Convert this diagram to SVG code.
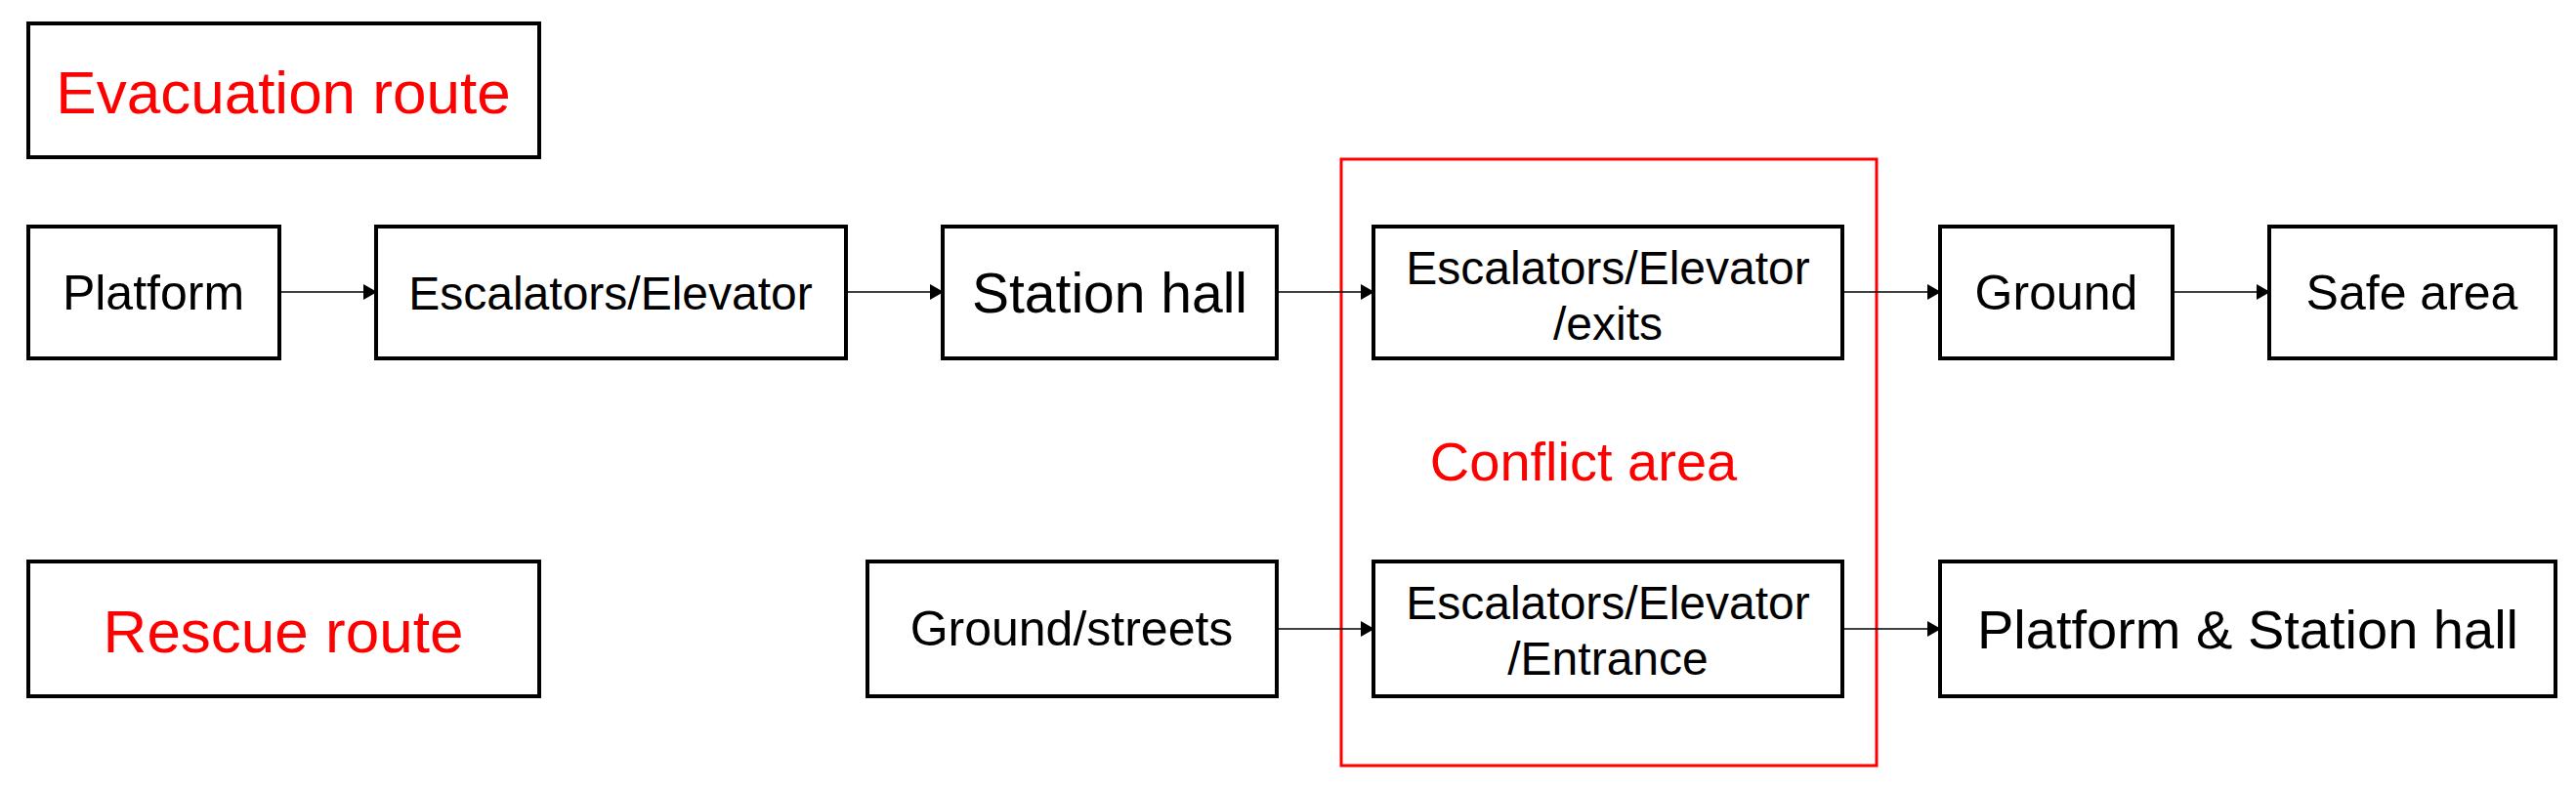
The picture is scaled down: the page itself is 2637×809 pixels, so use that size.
<svg xmlns="http://www.w3.org/2000/svg" width="2637" height="809" viewBox="0 0 2637 809">
<defs>
<marker id="ah" markerWidth="14" markerHeight="16" refX="13" refY="8" orient="auto" markerUnits="userSpaceOnUse" viewBox="0 0 14 16"><path d="M0,0 L14,8 L0,16 z" fill="#000"/></marker>
<style>
.n{fill:#fff;stroke:#000;stroke-width:4}
.t{font-family:"Liberation Sans",Arial,sans-serif;font-size:50px;fill:#000;text-anchor:middle;dominant-baseline:central}
.r{fill:#f00}
.c{stroke:#000;stroke-width:1.5;fill:none;marker-end:url(#ah)}
</style>
</defs>
<rect width="2637" height="809" fill="#fff"/>
<g id="conflict"><rect x="1373" y="163" width="548" height="621" fill="none" stroke="#f00" stroke-width="3"/><text class="t r" x="1621" y="472" style="font-size:56px">Conflict area</text></g>
<g id="evac"><rect class="n" x="29" y="24" width="523" height="137"/><text class="t r" x="290" y="94" style="font-size:62px">Evacuation route</text></g>
<g id="rescue"><rect class="n" x="29" y="575" width="523" height="138"/><text class="t r" x="290" y="646" style="font-size:62px">Rescue route</text></g>
<g id="platform"><rect class="n" x="29" y="232" width="257" height="135"/><text class="t" x="157" y="300">Platform</text></g>
<g id="esc1"><rect class="n" x="385" y="232" width="481" height="135"/><text class="t" x="625" y="300" style="font-size:48px">Escalators/Elevator</text></g>
<g id="hall"><rect class="n" x="965" y="232" width="342" height="135"/><text class="t" x="1136" y="300" style="font-size:57px">Station hall</text></g>
<g id="exits"><rect class="n" x="1406" y="232" width="480" height="135"/><text class="t" x="1646" y="274" style="font-size:48px">Escalators/Elevator</text><text class="t" x="1646" y="331" style="font-size:48px">/exits</text></g>
<g id="ground"><rect class="n" x="1986" y="232" width="238" height="135"/><text class="t" x="2105" y="300">Ground</text></g>
<g id="safe"><rect class="n" x="2323" y="232" width="293" height="135"/><text class="t" x="2469" y="300">Safe area</text></g>
<g id="streets"><rect class="n" x="888" y="575" width="419" height="138"/><text class="t" x="1097" y="644">Ground/streets</text></g>
<g id="entrance"><rect class="n" x="1406" y="575" width="480" height="138"/><text class="t" x="1646" y="617" style="font-size:48px">Escalators/Elevator</text><text class="t" x="1646" y="674" style="font-size:48px">/Entrance</text></g>
<g id="plathall"><rect class="n" x="1986" y="575" width="630" height="138"/><text class="t" x="2301" y="644" style="font-size:56px">Platform &amp; Station hall</text></g>
<g id="connectors">
<path class="c" d="M286,299 H385"/>
<path class="c" d="M866,299 H965"/>
<path class="c" d="M1307,299 H1406"/>
<path class="c" d="M1886,299 H1986"/>
<path class="c" d="M2224,299 H2323"/>
<path class="c" d="M1307,644 H1406"/>
<path class="c" d="M1886,644 H1986"/>
</g>
</svg>
